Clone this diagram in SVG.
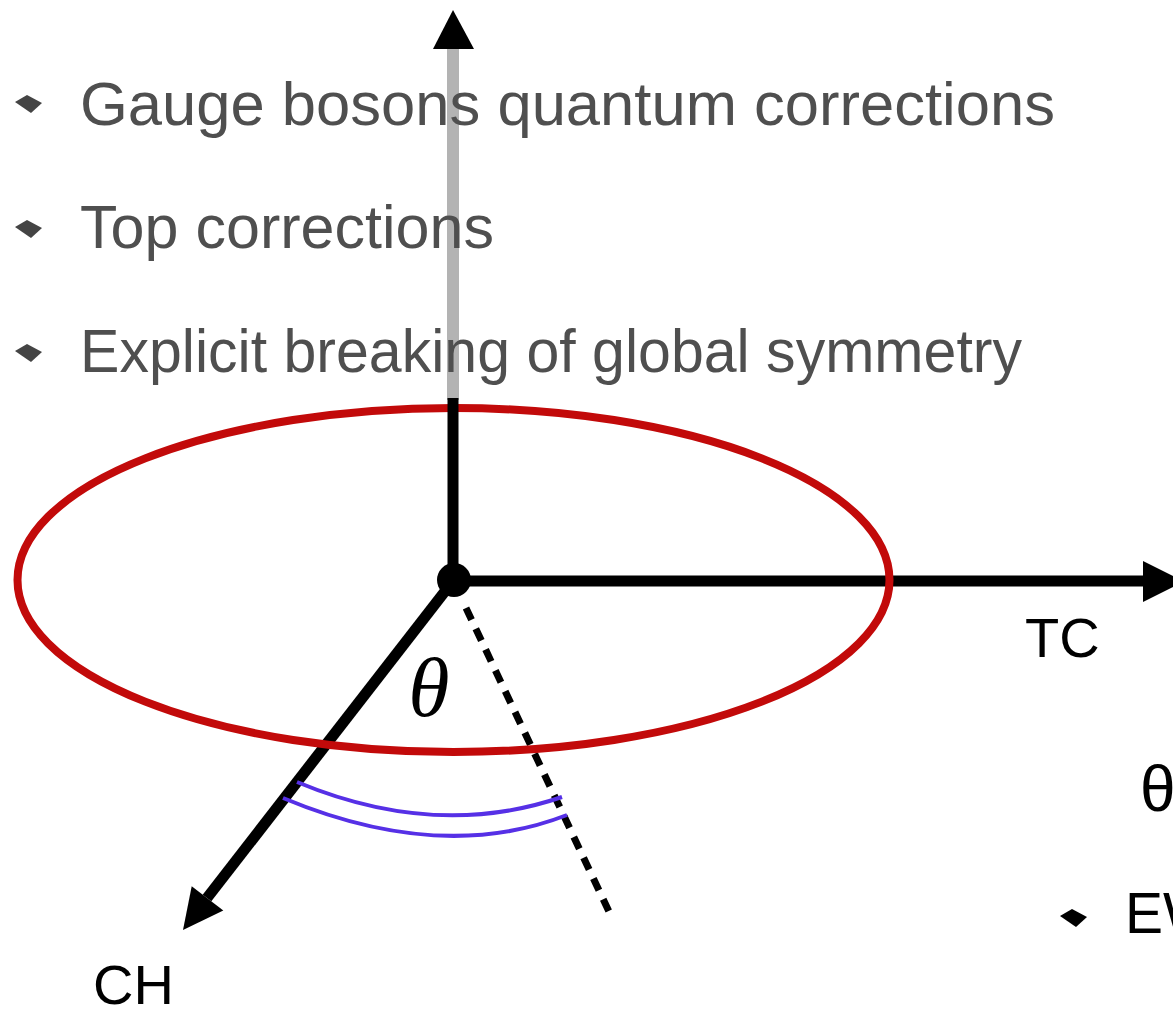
<svg xmlns="http://www.w3.org/2000/svg" width="1173" height="1012" viewBox="0 0 1173 1012">
<style>
.bul{font-family:"Liberation Sans",Arial,Helvetica,sans-serif;font-size:62px;fill:#4f4f4f}
.lab{font-family:"Liberation Sans",Arial,Helvetica,sans-serif;fill:#000}
.axis{stroke:#000;stroke-width:11;fill:none}
.arc{stroke:#5630e6;stroke-width:4;fill:none}
</style>
<defs>
<polygon id="dia" points="-13,-2 -1,-9 14,-1 3,9"/>
</defs>
<rect width="1173" height="1012" fill="#fff"/>
<g id="connectors">
<line class="axis" x1="453" y1="581" x2="207" y2="898"/>
<polygon points="183,930 191.7,886.2 223.3,910.6" fill="#000"/>
<line class="axis" x1="453" y1="581" x2="1145" y2="581"/>
<polygon points="1143,561 1143,602 1184,581.5" fill="#000"/>
<line x1="466" y1="608" x2="612" y2="918" stroke="#000" stroke-width="7" stroke-dasharray="13,10"/>
</g>
<g id="circle">
<ellipse cx="453.5" cy="580" rx="436" ry="172" fill="none" stroke="#c20a0a" stroke-width="8"/>
</g>
<g id="vertical-axis">
<line x1="453" y1="46" x2="453" y2="400" stroke="#b3b3b3" stroke-width="12"/>
<line x1="453" y1="398" x2="453" y2="581" stroke="#000" stroke-width="11"/>
<polygon points="453,10 433,49 474,49" fill="#000"/>
<circle cx="454" cy="580" r="17" fill="#000"/>
</g>
<g id="angle">
<path class="arc" d="M297,782 Q436,840 562,797"/>
<path class="arc" d="M283,798 Q441,864 567,815"/>
<text x="429" y="716" text-anchor="middle" font-family="'Liberation Serif','Times New Roman',serif" font-style="italic" font-size="84">θ</text>
</g>
<g id="bullets">
<use href="#dia" x="28" y="104" fill="#444"/>
<text class="bul" x="80" y="125" textLength="975" lengthAdjust="spacingAndGlyphs">Gauge bosons quantum corrections</text>
<use href="#dia" x="28" y="229" fill="#444"/>
<text class="bul" x="80" y="248" textLength="414" lengthAdjust="spacingAndGlyphs">Top corrections</text>
<use href="#dia" x="28" y="353" fill="#444"/>
<text class="bul" x="80" y="372" textLength="942" lengthAdjust="spacingAndGlyphs">Explicit breaking of global symmetry</text>
</g>
<g id="labels">
<text class="lab" x="1025" y="657" font-size="56">TC</text>
<text class="lab" x="93" y="1004" font-size="56">CH</text>
<text class="lab" x="1140" y="811" font-size="64">θ</text>
<use href="#dia" x="1073" y="918" fill="#000"/>
<text class="lab" x="1125" y="933" font-size="57">EW</text>
</g>
</svg>
